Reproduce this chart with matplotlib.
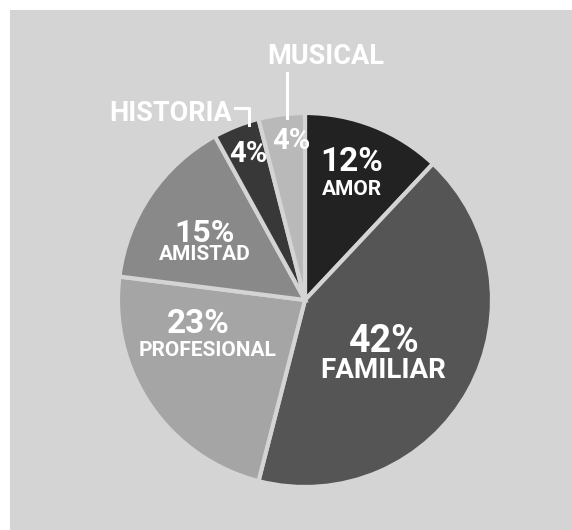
import matplotlib.pyplot as plt
from matplotlib.patches import Rectangle
from matplotlib.lines import Line2D

# --- Datos ---
categorias = ["AMOR", "FAMILIAR", "PROFESIONAL", "AMISTAD", "HISTORIA", "MUSICAL"]
porcentajes = [12, 42, 23, 15, 4, 4]
colores = ["#222222", "#555555", "#a5a5a5", "#898989", "#383838", "#b9b9b9"]

FONDO = "#d4d4d4"
W, H = 572, 530
CX, CY, R = 305, 300, 187  # centro y radio del pie en pixeles


def fx(px):
    return px / W


def fy(py):
    return 1 - py / H


fig = plt.figure(figsize=(W / 100, H / 100), dpi=100, facecolor="white")
plt.rcParams["font.family"] = ["Roboto", "DejaVu Sans"]

# panel gris
fig.patches.append(Rectangle((fx(10), 0), 1 - fx(10), fy(10), transform=fig.transFigure,
                             facecolor=FONDO, edgecolor="none", zorder=-5))

ax = fig.add_axes([fx(CX - R), fy(CY + R), 2 * R / W, 2 * R / H])
ax.set_zorder(2)
ax.pie(porcentajes, colors=colores, startangle=90, counterclock=False, radius=1,
       wedgeprops=dict(edgecolor=FONDO, linewidth=3))
ax.set_xlim(-1, 1)
ax.set_ylim(-1, 1)
ax.axis("off")

# --- Etiquetas (posicion en px, tamaños) ---
etiq_pct = [(352, 162, 24), (384, 341, 27), (198, 324, 24), (205, 233, 23), (248, 154, 21), (291, 141, 21)]
etiq_nom = [(352, 190, 15), (383, 370, 20), (208, 351, 15), (205, 255, 15), None, None]

for i, cat in enumerate(categorias):
    x, y, s = etiq_pct[i]
    fig.text(fx(x), fy(y), f"{porcentajes[i]}%", color="white", fontsize=s,
             fontweight="bold", ha="center", va="center", zorder=5)
    if etiq_nom[i] is not None:
        x, y, s = etiq_nom[i]
        fig.text(fx(x), fy(y), cat, color="white", fontsize=s,
                 fontweight="bold", ha="center", va="center", zorder=5)

# etiquetas externas
fig.text(fx(171), fy(113), "HISTORIA", color="white", fontsize=19.5,
         fontweight="bold", ha="center", va="center", zorder=5)
fig.add_artist(Line2D([fx(235), fx(249), fx(249)], [fy(108), fy(108), fy(125)],
                      color="white", linewidth=2.2, transform=fig.transFigure, zorder=5))

fig.text(fx(326), fy(56), "MUSICAL", color="white", fontsize=19.5,
         fontweight="bold", ha="center", va="center", zorder=5)
fig.add_artist(Line2D([fx(287), fx(287)], [fy(73), fy(118)],
                      color="white", linewidth=2.2, transform=fig.transFigure, zorder=5))

fig.savefig("out.png", dpi=100, facecolor="white")
